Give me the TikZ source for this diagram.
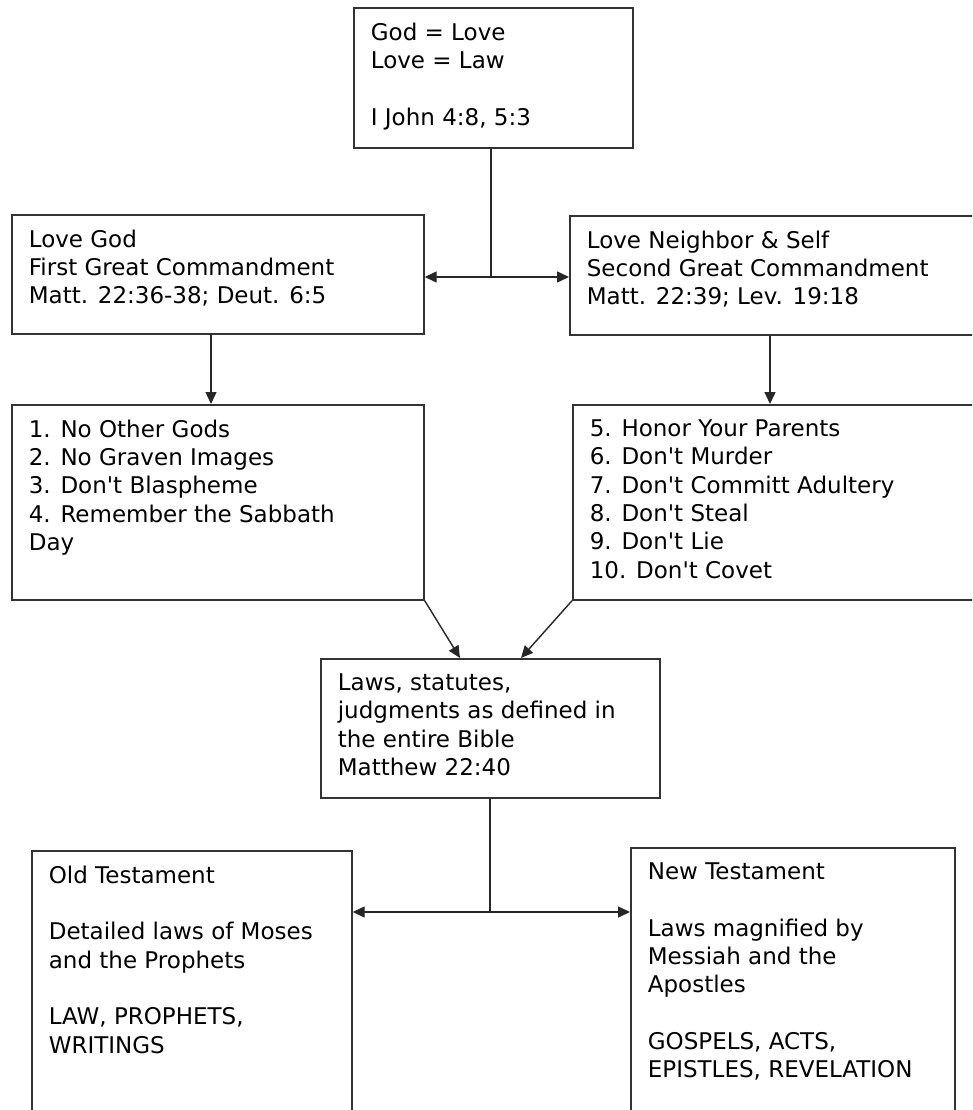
\documentclass[tikz,border=0pt]{standalone}
\usepackage{fontspec}
\setmainfont{DejaVu Sans}
\usetikzlibrary{arrows.meta}

\newcommand{\boxtext}[3]{\parbox[t][#2][t]{#1}{\raggedright #3}}
\newcommand{\ap}{\textquotesingle}

\tikzset{
  box/.style={draw=black!80, line width=1.7pt, rectangle, anchor=north west,
    inner xsep=17pt, inner ysep=15pt, font=\fontsize{23}{28.3}\selectfont},
  link/.style={draw=black!85, line width=1.4pt},
  arr/.style={link, -{Triangle[length=12pt,width=11pt]}}
}

\begin{document}
\begin{tikzpicture}[x=1pt,y=-1pt]
  \useasboundingbox (0,0) rectangle (972,1110);
  \clip (0,0) rectangle (972,1110);

  \node[box] (god) at (353,7) {\boxtext{245pt}{110pt}{God = Love\\Love = Law\\[\baselineskip]I John 4:8, 5:3}}; % top box

  \node[box] (first) at (11,214) {\boxtext{378pt}{89pt}{Love God\\First Great Commandment\\Matt. 22:36-38; Deut. 6:5}}; % first commandment
  \node[box] (second) at (569,215) {\boxtext{386pt}{89pt}{Love Neighbor \& Self\\Second Great Commandment\\Matt. 22:39; Lev. 19:18}}; % second commandment

  \node[box] (tabl1) at (11,404) {\boxtext{378pt}{165pt}{1. No Other Gods\\2. No Graven Images\\3. Don\ap t Blaspheme\\4. Remember the Sabbath\\Day}}; % first table
  \node[box] (tabl2) at (572,404) {\boxtext{386pt}{165pt}{5. Honor Your Parents\\6. Don\ap t Murder\\7. Don\ap t Committ Adultery\\8. Don\ap t Steal\\9. Don\ap t Lie\\10. Don\ap t Covet}}; % second table

  \node[box] (laws) at (320,658) {\boxtext{305pt}{109pt}{Laws, statutes,\\judgments as defined in\\the entire Bible\\Matthew 22:40}}; % laws

  \node[box] (ot) at (31,850) {\boxtext{286pt}{245pt}{Old Testament\\[\baselineskip]Detailed laws of Moses\\and the Prophets\\[\baselineskip]LAW, PROPHETS,\\WRITINGS}}; % old testament
  \node[box] (nt) at (630,847) {\boxtext{290pt}{248pt}{New Testament\\[\baselineskip]Laws magnified by\\Messiah and the\\Apostles\\[\baselineskip]GOSPELS, ACTS,\\EPISTLES, REVELATION}}; % new testament

  % split below the top box
  \coordinate (j1) at (491,277);
  \draw[link] (j1 |- god.south) -- (j1);
  \draw[arr] (j1) -- (j1 -| first.east);
  \draw[arr] (j1) -- (j1 -| second.west);

  % down to the two tables
  \draw[arr] ([xshift=200pt]first.south west) -- ([xshift=200pt]tabl1.north west);
  \draw[arr] ([xshift=201pt]second.south west) -- ([xshift=198pt]tabl2.north west);

  % tables into the laws box
  \draw[arr] (tabl1.south east) -- ([xshift=140pt]laws.north west);
  \draw[arr] (tabl2.south west) -- ([xshift=201pt]laws.north west);

  % split below the laws box
  \coordinate (j2) at (490,912);
  \draw[link] (j2 |- laws.south) -- (j2);
  \draw[arr] (j2) -- (j2 -| ot.east);
  \draw[arr] (j2) -- (j2 -| nt.west);
\end{tikzpicture}
\end{document}
